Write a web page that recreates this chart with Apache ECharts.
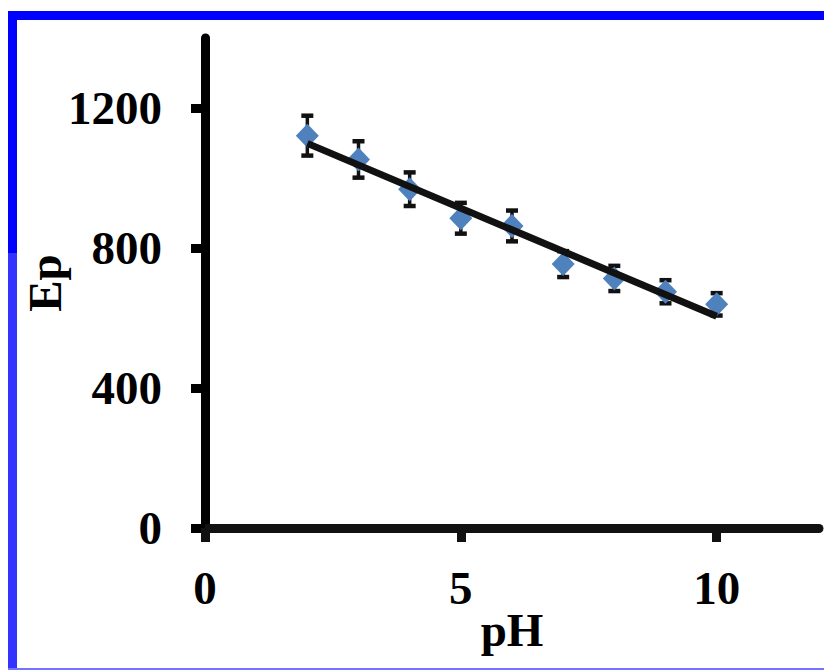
<!DOCTYPE html>
<html>
<head>
<meta charset="utf-8">
<script src="https://cdn.jsdelivr.net/npm/echarts@6/dist/echarts.min.js"></script>
<style>
  html, body { margin: 0; padding: 0; background: #ffffff; }
  #chart { width: 824px; height: 670px; }
</style>
</head>
<body>
<div id="chart"></div>
<script>
// Peak potential (Ep) versus pH, with error bars and a linear fit
const phValues = [2, 3, 4, 5, 6, 7, 8, 9, 10];
const epValues = [1121, 1053, 968, 885, 863, 754, 713, 675, 639];
const epErrors = [57, 52, 48, 44, 44, 37, 36, 33, 32];

// Linear fit drawn between its two end points
const fitPh = [2, 10];
const fitEp = [1099, 605];

const xTicks = [0, 5, 10];
const yTicks = [0, 400, 800, 1200];

const scatterData = phValues.map((x, i) => [x, epValues[i]]);
const errorData = phValues.map((x, i) => [x, epValues[i] - epErrors[i], epValues[i] + epErrors[i]]);
const fitData = fitPh.map((x, i) => [x, fitEp[i]]);

const font = "'Liberation Serif', 'Times New Roman', serif";
const ink = '#000000';
const plain = v => String(v);

const chart = echarts.init(document.getElementById('chart'), null, { renderer: 'svg' });

chart.setOption({
  backgroundColor: '#ffffff',
  animation: false,
  grid: { left: 205, right: 5, top: 38, bottom: 142, outerBoundsMode: 'none' },
  xAxis: {
    type: 'value',
    min: 0, max: 12, interval: 5,
    name: 'pH',
    nameLocation: 'middle',
    nameGap: 78,
    nameMoveOverlap: false,
    nameTextStyle: { fontFamily: font, fontWeight: 'bold', fontSize: 47, color: ink },
    splitLine: { show: false },
    axisLine: { onZero: false, lineStyle: { color: '#111111', width: 9 } },
    axisTick: { customValues: xTicks, length: 14, lineStyle: { color: '#111111', width: 9 } },
    axisLabel: {
      customValues: xTicks,
      formatter: plain,
      margin: 36,
      fontFamily: font, fontWeight: 'bold', fontSize: 47, color: ink
    }
  },
  yAxis: {
    type: 'value',
    min: 0, max: 1400, interval: 400,
    name: 'Ep',
    nameLocation: 'middle',
    nameGap: 137,
    nameRotate: 90,
    nameMoveOverlap: false,
    nameTextStyle: { fontFamily: font, fontWeight: 'bold', fontSize: 47, color: ink },
    splitLine: { show: false },
    axisLine: { onZero: false, lineStyle: { color: '#000000', width: 9 } },
    axisTick: { customValues: yTicks, length: 14, lineStyle: { color: '#000000', width: 9 } },
    axisLabel: {
      customValues: yTicks,
      formatter: plain,
      margin: 43,
      fontFamily: font, fontWeight: 'bold', fontSize: 47, color: ink
    }
  },
  graphic: [
    // blue frame around the figure
    { type: 'rect', shape: { x: 8, y: 11, width: 816, height: 9 }, style: { fill: '#0000ff' }, silent: true },
    { type: 'rect', shape: { x: 8, y: 11, width: 9, height: 242 }, style: { fill: '#0000ff' }, silent: true },
    { type: 'rect', shape: { x: 8, y: 253, width: 9, height: 417 }, style: { fill: '#3333ff' }, silent: true },
    { type: 'rect', shape: { x: 8, y: 668, width: 816, height: 2 }, style: { fill: '#7373ff' }, silent: true }
  ],
  series: [
    {
      type: 'custom',
      name: 'error',
      z: 2,
      data: errorData,
      renderItem: function (params, api) {
        const x = api.value(0);
        const lo = api.coord([x, api.value(1)]);
        const hi = api.coord([x, api.value(2)]);
        const cap = 6;
        const style = { stroke: '#111111', lineWidth: 4.5 };
        return {
          type: 'group',
          children: [
            { type: 'line', shape: { x1: lo[0], y1: lo[1], x2: hi[0], y2: hi[1] }, style: { stroke: '#111111', lineWidth: 3.5 } },
            { type: 'line', shape: { x1: lo[0] - cap, y1: lo[1], x2: lo[0] + cap, y2: lo[1] }, style: style },
            { type: 'line', shape: { x1: hi[0] - cap, y1: hi[1], x2: hi[0] + cap, y2: hi[1] }, style: style }
          ]
        };
      }
    },
    {
      type: 'scatter',
      name: 'Ep',
      z: 3,
      symbol: 'diamond',
      symbolSize: [23, 24],
      itemStyle: { color: '#4f81bd', opacity: 1 },
      data: scatterData
    },
    {
      type: 'line',
      name: 'fit',
      z: 4,
      symbol: 'none',
      lineStyle: { color: '#111111', width: 7 },
      data: fitData
    }
  ]
});
</script>
</body>
</html>
